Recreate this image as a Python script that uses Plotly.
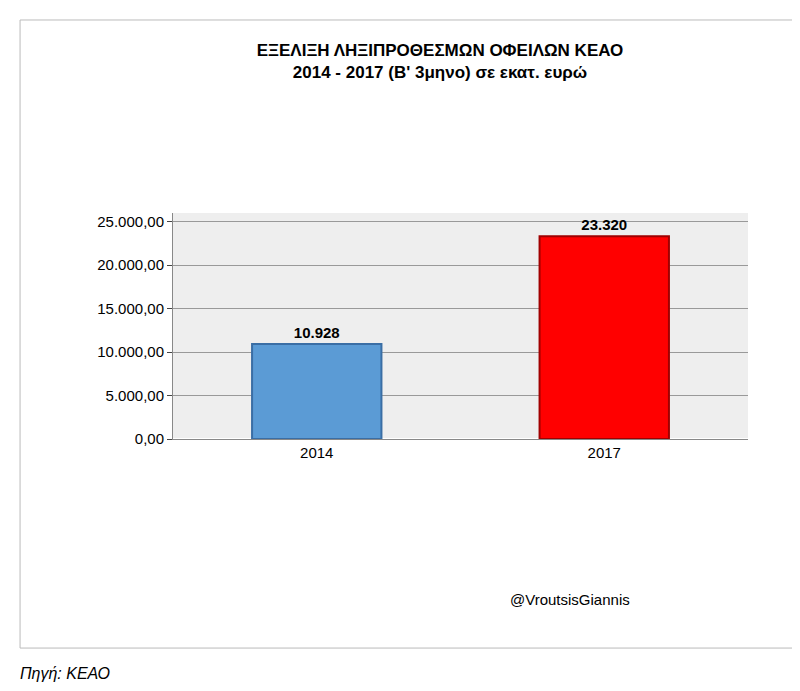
import plotly.graph_objects as go

years = ["2014", "2017"]
values = [10928, 23320]
labels = ["<b>10.928</b>", "<b>23.320</b>"]
colors = ["#5b9bd5", "#ff0000"]
edge = ["#3a6ea5", "#a00000"]
yticks = [0, 5000, 10000, 15000, 20000, 25000]
yticktext = ["0,00", "5.000,00", "10.000,00", "15.000,00", "20.000,00", "25.000,00"]

fig = go.Figure(go.Bar(
    x=years, y=values, marker=dict(color=colors, line=dict(color=edge, width=2)),
    text=labels, textposition="outside", width=0.45,
    textfont=dict(size=15, color="black", family="Liberation Sans"),
))
fig.update_layout(
    width=800, height=691, paper_bgcolor="white", plot_bgcolor="#eeeeee",
    margin=dict(l=165, r=60, t=205, b=260),
    title=dict(text="<b>ΕΞΕΛΙΞΗ ΛΗΞΙΠΡΟΘΕΣΜΩΝ ΟΦΕΙΛΩΝ ΚΕΑΟ<br>2014 - 2017 (Β' 3μηνο) σε εκατ. ευρώ</b>",
               x=0.54, y=0.93, xanchor="center", font=dict(size=17, color="black", family="Liberation Sans")),
    font=dict(family="Liberation Sans", size=14, color="black"),
    showlegend=False,
    shapes=[dict(type="rect", xref="paper", yref="paper", x0=-0.266, x1=1.087, y0=-0.925, y1=1.854,
                 line=dict(color="#bbbbbb", width=1))],
    annotations=[
        dict(text="@VroutsisGiannis", xref="paper", yref="paper", x=0.583, y=-0.757, showarrow=False,
             xanchor="left", font=dict(size=15)),
        dict(text="<i>Πηγή: ΚΕΑΟ</i>", xref="paper", yref="paper", x=-0.27, y=-0.991, showarrow=False,
             xanchor="left", yanchor="top", font=dict(size=16)),
    ],
)
fig.update_yaxes(range=[0, 26000], tickvals=yticks, ticktext=yticktext, gridcolor="#999999",
                 showline=True, linecolor="#888888", ticks="outside", tickfont=dict(size=15))
fig.update_xaxes(showline=True, linecolor="#888888", tickfont=dict(size=15))
fig.write_html("out.html")
